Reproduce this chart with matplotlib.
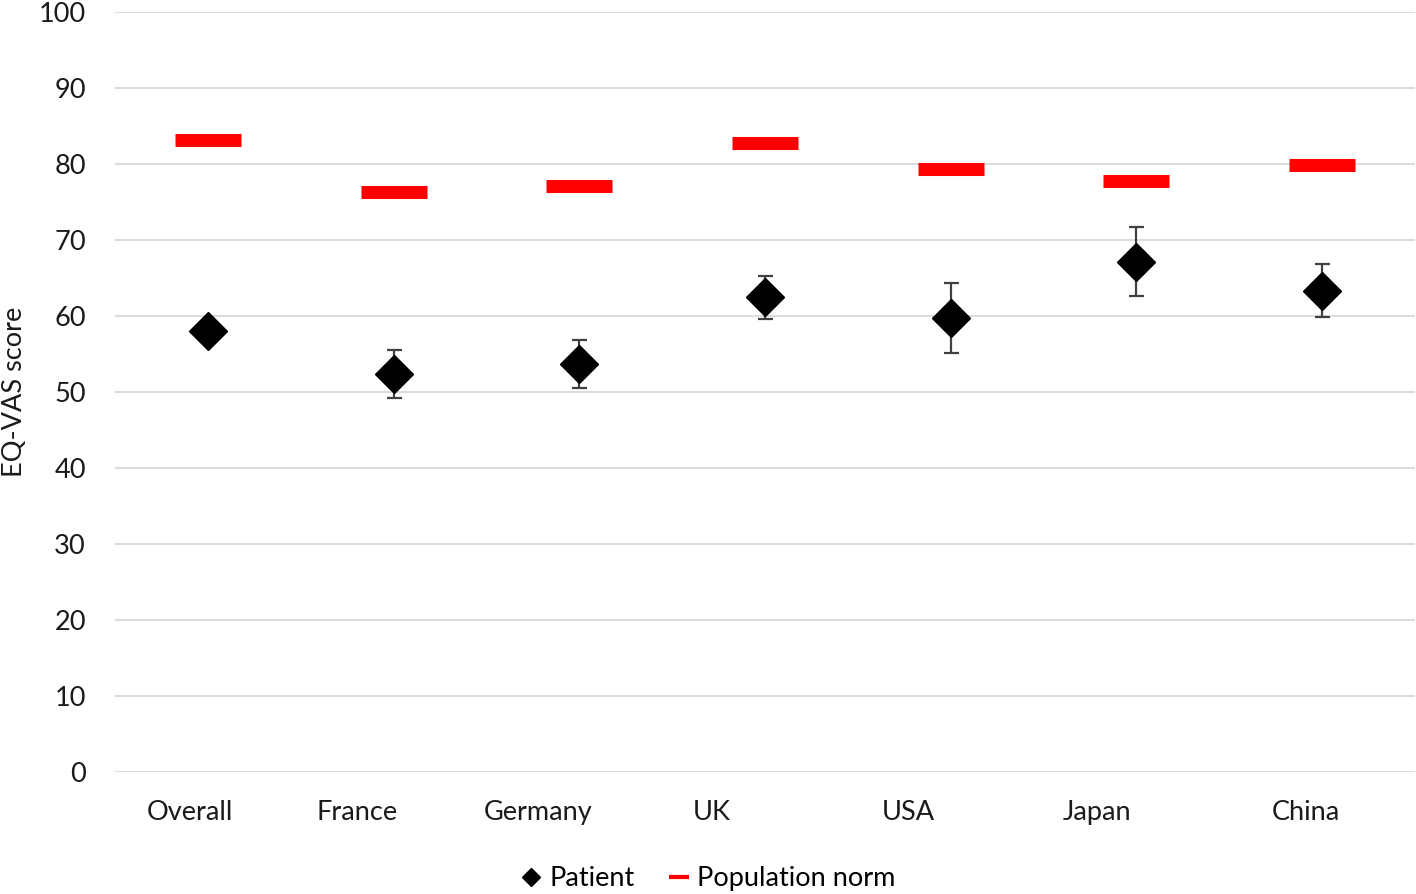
import numpy as np
import matplotlib
matplotlib.use("Agg")
import matplotlib.pyplot as plt
from matplotlib.lines import Line2D
from matplotlib.transforms import ScaledTranslation

plt.rcParams['font.family'] = ['Lato', 'DejaVu Sans']

# === data ===
groups = ["Overall", "France", "Germany", "UK", "USA", "Japan", "China"]
patient = [58.0, 52.4, 53.7, 62.5, 59.7, 67.1, 63.3]
patient_low = [np.nan, 49.2, 50.5, 59.6, 55.1, 62.6, 59.8]
patient_high = [np.nan, 55.5, 56.8, 65.3, 64.4, 71.7, 66.9]
norm = [83.1, 76.3, 77.1, 82.8, 79.3, 77.8, 79.9]

# label shifts (pixels) to mimic the off-centre category labels
label_shift = [-18, -36, -41, -53, -42, -39, -16]

fs = 19.5
fig = plt.figure(figsize=(14.16, 8.94), dpi=100)
ax = fig.add_axes([0.0812, 0.1365, 0.918, 0.8501])

x = np.arange(len(groups))
pat = np.array(patient)
err = np.array([pat - np.array(patient_low), np.array(patient_high) - pat])

# population norm - thick red dashes
ax.plot(x, norm, linestyle="none", marker="_", markersize=48,
        markeredgewidth=9.4, color="#ff0000", zorder=3)

# patient diamonds with CI
ax.errorbar(x, pat, yerr=err, fmt="none", ecolor="#404040", elinewidth=1.6,
            capsize=5.4, capthick=1.6, zorder=2)
ax.plot(x, pat, linestyle="none", marker="D", markersize=19,
        color="black", zorder=4)

ax.set_xlim(-0.5, len(groups) - 0.5)
ax.set_ylim(0, 100)
ax.set_yticks(np.arange(0, 101, 10))
ax.set_xticks(x)
ax.set_xticklabels(groups)
ax.grid(axis="y", color="#d9d9d9", linewidth=1.3)
ax.set_axisbelow(True)
for s in ax.spines.values():
    s.set_visible(False)
ax.tick_params(axis="both", length=0, labelsize=fs, colors="#1a1a1a")
ax.tick_params(axis="x", pad=20.5)
ax.tick_params(axis="y", pad=21)

for lab, dx in zip(ax.get_xticklabels(), label_shift):
    lab.set_transform(lab.get_transform() + ScaledTranslation(dx / 100, 0, fig.dpi_scale_trans))

ax.set_ylabel("EQ-VAS score", fontsize=fs, color="#1a1a1a")
ax.yaxis.set_label_coords(-0.068, 0.5)

handles = [
    Line2D([], [], linestyle="none", marker="D", markersize=9, color="black"),
    Line2D([], [], linestyle="none", marker="_", markersize=14,
           markeredgewidth=3, color="#ff0000"),
]
fig.legend(handles, ["Patient", "Population norm"], loc="center",
           bbox_to_anchor=(0.5, 0.017), ncol=2, frameon=False, fontsize=fs,
           handlelength=0.8, handletextpad=0.3, columnspacing=1.2)

fig.savefig("out.png", dpi=100)
